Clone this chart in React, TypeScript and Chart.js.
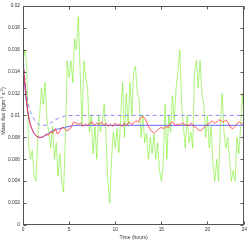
import React, { useEffect, useRef } from "react";
import { Chart, registerables } from "chart.js";

Chart.register(...registerables);

// Green (noisy measured flux), sampled every 0.2 h from 0 to 24 h
const GREEN_STEP_HOURS = 0.2;
const greenFlux = [
  0.0150, 0.0160, 0.0145, 0.0075, 0.0060, 0.0068, 0.0045, 0.0040, 0.0080, 0.0100,
  0.0125, 0.0110, 0.0130, 0.0095, 0.0085, 0.0070, 0.0090, 0.0060, 0.0075, 0.0045,
  0.0065, 0.0040, 0.0030, 0.0080, 0.0150, 0.0135, 0.0150, 0.0130, 0.0170, 0.0160,
  0.0190, 0.0140, 0.0090, 0.0150, 0.0135, 0.0125, 0.0085, 0.0100, 0.0065, 0.0090,
  0.0060, 0.0100, 0.0085, 0.0095, 0.0110, 0.0082, 0.0040, 0.0020, 0.0060, 0.0085,
  0.0070, 0.0088, 0.0066, 0.0100, 0.0130, 0.0080, 0.0120, 0.0090, 0.0130, 0.0100,
  0.0140, 0.0145, 0.0120, 0.0115, 0.0080, 0.0100, 0.0075, 0.0084, 0.0060, 0.0080,
  0.0065, 0.0083, 0.0060, 0.0075, 0.0050, 0.0040, 0.0055, 0.0110, 0.0060, 0.0100,
  0.0085, 0.0118, 0.0095, 0.0125, 0.0140, 0.0160, 0.0110, 0.0090, 0.0070, 0.0100,
  0.0075, 0.0085, 0.0070, 0.0140, 0.0150, 0.0125, 0.0150, 0.0120, 0.0110, 0.0080,
  0.0100, 0.0070, 0.0090, 0.0055, 0.0040, 0.0060, 0.0040, 0.0090, 0.0120, 0.0085,
  0.0070, 0.0080, 0.0060, 0.0040, 0.0050, 0.0040, 0.0080, 0.0065, 0.0090, 0.0120,
  0.0095,
];

// Red (smoothed flux), sampled every 0.25 h
const RED_STEP_HOURS = 0.25;
const redFlux = [
  0.0150, 0.0125, 0.0105, 0.0093, 0.0087, 0.0083, 0.0081, 0.0080, 0.0080, 0.0081,
  0.0083, 0.0082, 0.0085, 0.0084, 0.0088, 0.0083, 0.0086, 0.0089, 0.0088, 0.0086,
  0.0087, 0.0090, 0.0094, 0.0093, 0.0092, 0.0093, 0.0090, 0.0092, 0.0091, 0.0093,
  0.0094, 0.0091, 0.0093, 0.0092, 0.0094, 0.0091, 0.0093, 0.0090, 0.0092, 0.0090,
  0.0093, 0.0091, 0.0092, 0.0090, 0.0093, 0.0091, 0.0094, 0.0092, 0.0093, 0.0095,
  0.0094, 0.0098, 0.0099, 0.0097, 0.0092, 0.0088, 0.0085, 0.0084, 0.0086, 0.0088,
  0.0089, 0.0088, 0.0090, 0.0089, 0.0093, 0.0094, 0.0091, 0.0092, 0.0091, 0.0093,
  0.0092, 0.0091, 0.0091, 0.0093, 0.0090, 0.0089, 0.0087, 0.0086, 0.0088, 0.0090,
  0.0092, 0.0093, 0.0095, 0.0093, 0.0094, 0.0096, 0.0095, 0.0094, 0.0096, 0.0093,
  0.0089, 0.0088, 0.0090, 0.0093, 0.0094, 0.0092, 0.0093,
];

// Blue solid model curve
const blueHours = [0, 0.25, 0.5, 0.75, 1, 1.25, 1.5, 1.75, 2, 2.5, 3, 3.5, 4, 5, 6, 8, 24];
const blueFlux = [
  0.0145, 0.0122, 0.0104, 0.0093, 0.0087, 0.0083, 0.0081, 0.0080, 0.0080, 0.0082,
  0.0085, 0.0087, 0.0088, 0.0090, 0.0091, 0.0091, 0.0091,
];

// Blue dashed model curve
const dashHours = [0, 0.25, 0.5, 0.75, 1, 1.25, 1.5, 2, 2.5, 3, 3.5, 4, 5, 24];
const dashFlux = [
  0.0155, 0.0130, 0.0114, 0.0105, 0.0100, 0.0096, 0.0093, 0.0091, 0.0091, 0.0093,
  0.0096, 0.0098, 0.0100, 0.0100,
];

const xTitle = "Time (hours)";
const yTitleParts: [string, boolean][] = [
  ["Mass flux (kgm", false],
  ["-1", true],
  [" s", false],
  ["-2", true],
  [")", false],
];

const FONT = "'Liberation Sans', Arial, sans-serif";
const AXIS = "#555";
const TEXT = "#333";

const frame = {
  id: "frame",
  afterDraw(chart: any) {
    const { ctx, chartArea: a, scales } = chart;
    ctx.save();
    ctx.strokeStyle = AXIS;
    ctx.lineWidth = 1;
    const L = Math.round(a.left) + 0.5, R = Math.round(a.right) - 0.5;
    const T = Math.round(a.top) + 0.5, B = Math.round(a.bottom) - 0.5;
    ctx.strokeRect(L, T, R - L, B - T);
    const tl = 3;
    ctx.beginPath();
    scales.x.ticks.forEach((t: any) => {
      const x = Math.round(scales.x.getPixelForValue(t.value)) + 0.5;
      ctx.moveTo(x, B); ctx.lineTo(x, B - tl);
      ctx.moveTo(x, T); ctx.lineTo(x, T + tl);
    });
    scales.y.ticks.forEach((t: any) => {
      const y = Math.round(scales.y.getPixelForValue(t.value)) + 0.5;
      ctx.moveTo(L, y); ctx.lineTo(L + tl, y);
      ctx.moveTo(R, y); ctx.lineTo(R - tl, y);
    });
    ctx.stroke();

    // titles
    ctx.fillStyle = TEXT;
    ctx.font = `5px ${FONT}`;
    ctx.textAlign = "center";
    ctx.textBaseline = "middle";
    ctx.fillText(xTitle, (a.left + a.right) / 2, 238);

    ctx.translate(4, 111);
    ctx.rotate(-Math.PI / 2);
    const big = `5.2px ${FONT}`, small = `3.8px ${FONT}`;
    let total = 0;
    yTitleParts.forEach(([s, sup]) => { ctx.font = sup ? small : big; total += ctx.measureText(s).width; });
    let x = -total / 2;
    ctx.textAlign = "left";
    yTitleParts.forEach(([s, sup]) => {
      ctx.font = sup ? small : big;
      ctx.fillText(s, x, sup ? -1.8 : 0);
      x += ctx.measureText(s).width;
    });
    ctx.restore();
  },
};

export default function App() {
  const ref = useRef<HTMLCanvasElement>(null);
  useEffect(() => {
    if (!ref.current) return;
    const chart = new Chart(ref.current, {
      type: "line",
      data: {
        datasets: [
          {
            label: "red",
            data: redFlux.map((v, i) => ({ x: i * RED_STEP_HOURS, y: v })),
            borderColor: "rgb(255,50,50)",
            borderWidth: 0.9,
            pointRadius: 0,
            tension: 0.1,
          },
          {
            label: "blue",
            data: blueHours.map((h, i) => ({ x: h, y: blueFlux[i] })),
            borderColor: "rgb(100,100,255)",
            borderWidth: 1,
            pointRadius: 0,
            cubicInterpolationMode: "monotone",
          },
          {
            label: "dashed",
            data: dashHours.map((h, i) => ({ x: h, y: dashFlux[i] })),
            borderColor: "rgb(140,140,255)",
            borderWidth: 1,
            borderDash: [4, 3],
            pointRadius: 0,
            cubicInterpolationMode: "monotone",
          },
          {
            label: "green",
            data: greenFlux.map((v, i) => ({ x: i * GREEN_STEP_HOURS, y: v })),
            borderColor: "rgba(110,235,20,0.55)",
            borderWidth: 1,
            pointRadius: 0,
            tension: 0,
          },
        ],
      },
      options: {
        responsive: false,
        animation: false,
        layout: { padding: { top: 5, right: 2, left: 0, bottom: 0 } },
        plugins: { legend: { display: false }, tooltip: { enabled: false } },
        scales: {
          x: {
            type: "linear",
            min: 0,
            max: 24,
            grid: { display: false, drawTicks: false },
            border: { display: false },
            ticks: {
              stepSize: 5,
              padding: 2,
              maxRotation: 0,
              autoSkip: false,
              color: TEXT,
              font: { size: 4.8, family: FONT },
            },
            afterFit: (s: any) => { s.height = 17; },
          },
          y: {
            min: 0,
            max: 0.02,
            grid: { display: false, drawTicks: false },
            border: { display: false },
            ticks: {
              stepSize: 0.002,
              padding: 3,
              autoSkip: false,
              color: TEXT,
              font: { size: 4.8, family: FONT },
              callback: (v: any) => String(Number(Number(v).toFixed(3))),
            },
            afterFit: (s: any) => { s.width = 23; },
          },
        },
      },
      plugins: [frame],
    });
    return () => chart.destroy();
  }, []);
  return (
    <div style={{ position: "fixed", left: 0, top: 0, width: 249, height: 242, background: "#fff" }}>
      <canvas ref={ref} width={249} height={242} />
    </div>
  );
}
